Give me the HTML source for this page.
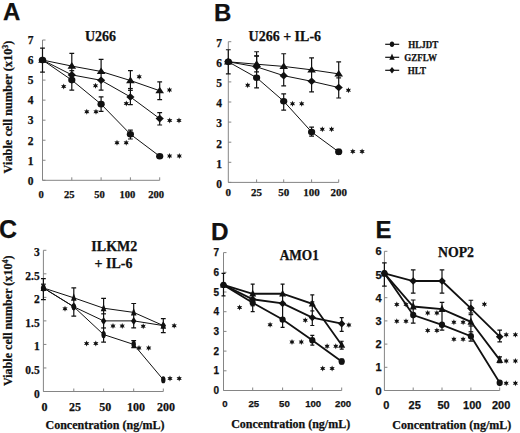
<!DOCTYPE html><html><head><meta charset="utf-8"><style>html,body{margin:0;padding:0;background:#fff;}svg{display:block;}text{stroke:#111;stroke-width:0.25px;}</style></head><body>
<svg width="520" height="433" viewBox="0 0 520 433">
<rect width="520" height="433" fill="#fff"/>
<g fill="#111">
<text x="3.0" y="20.2" font-family="'Liberation Sans', sans-serif" font-weight="bold" font-size="24">A</text>
<text x="214" y="21" font-family="'Liberation Sans', sans-serif" font-weight="bold" font-size="24">B</text>
<text x="-0.9" y="238" font-family="'Liberation Sans', sans-serif" font-weight="bold" font-size="25">C</text>
<text x="211" y="239.5" font-family="'Liberation Sans', sans-serif" font-weight="bold" font-size="24.3">D</text>
<text x="375.5" y="238" font-family="'Liberation Sans', sans-serif" font-weight="bold" font-size="24">E</text>
<text x="100.5" y="40.8" text-anchor="middle" font-family="'Liberation Serif', serif" font-weight="bold" font-size="14">U266</text>
<text x="284.8" y="40.9" text-anchor="middle" font-family="'Liberation Serif', serif" font-weight="bold" font-size="14">U266 + IL-6</text>
<text x="114.3" y="250.8" text-anchor="middle" font-family="'Liberation Serif', serif" font-weight="bold" font-size="14">ILKM2</text>
<text x="113.5" y="267.5" text-anchor="middle" font-family="'Liberation Serif', serif" font-weight="bold" font-size="14">+ IL-6</text>
<text x="279.7" y="259.7" textLength="39.2" lengthAdjust="spacingAndGlyphs" font-family="'Liberation Serif', serif" font-weight="bold" font-size="14">AMO1</text>
<text x="456" y="256.5" text-anchor="middle" font-family="'Liberation Serif', serif" font-weight="bold" font-size="13.8">NOP2</text>
<text transform="translate(11.7,107) rotate(-90)" text-anchor="middle" font-family="'Liberation Serif', serif" font-weight="bold" font-size="12.3">Viable cell number (x10<tspan dy="-4" font-size="8">3</tspan><tspan dy="4">)</tspan></text>
<text transform="translate(11.8,320.8) rotate(-90)" text-anchor="middle" font-family="'Liberation Serif', serif" font-weight="bold" font-size="12.1">Viable cell number (x10<tspan dy="-4" font-size="8">4</tspan><tspan dy="4">)</tspan></text>
<text x="105" y="429.0" text-anchor="middle" font-family="'Liberation Serif', serif" font-weight="bold" font-size="12">Concentration (ng/mL)</text>
<text x="290.7" y="427.9" text-anchor="middle" font-family="'Liberation Serif', serif" font-weight="bold" font-size="12">Concentration (ng/mL)</text>
<text x="451.8" y="428.6" text-anchor="middle" font-family="'Liberation Serif', serif" font-weight="bold" font-size="12">Concentration (ng/mL)</text>
<path d="M385.2,44.3 H399.2" stroke="#111" stroke-width="1.2"/>
<ellipse cx="392.00" cy="44.30" rx="2.20" ry="2.75"/>
<text x="408.3" y="48.3" textLength="30.0" lengthAdjust="spacingAndGlyphs" font-family="'Liberation Serif', serif" font-weight="bold" font-size="10">HLJDT</text>
<path d="M385.2,57.3 H399.2" stroke="#111" stroke-width="1.2"/>
<path d="M392.00,53.58 L394.70,59.78 L389.30,59.78 Z"/>
<text x="404.3" y="61.3" textLength="32.7" lengthAdjust="spacingAndGlyphs" font-family="'Liberation Serif', serif" font-weight="bold" font-size="10">GZFLW</text>
<path d="M385.2,70.3 H399.2" stroke="#111" stroke-width="1.2"/>
<path d="M392.00,67.00 L394.60,70.30 L392.00,73.60 L389.40,70.30 Z"/>
<text x="407.8" y="74.3" textLength="18.2" lengthAdjust="spacingAndGlyphs" font-family="'Liberation Serif', serif" font-weight="bold" font-size="10">HLT</text>
<path d="M42.5,40.02 V180.3 H159.7" fill="none" stroke="#858585" stroke-width="1.0"/>
<path d="M42.5,180.30 h3" stroke="#858585" stroke-width="1.0"/>
<path d="M42.5,160.26 h3" stroke="#858585" stroke-width="1.0"/>
<path d="M42.5,140.22 h3" stroke="#858585" stroke-width="1.0"/>
<path d="M42.5,120.18 h3" stroke="#858585" stroke-width="1.0"/>
<path d="M42.5,100.14 h3" stroke="#858585" stroke-width="1.0"/>
<path d="M42.5,80.10 h3" stroke="#858585" stroke-width="1.0"/>
<path d="M42.5,60.06 h3" stroke="#858585" stroke-width="1.0"/>
<path d="M42.5,40.02 h3" stroke="#858585" stroke-width="1.0"/>
<path d="M71.8,180.3 v-3" stroke="#858585" stroke-width="1.0"/>
<path d="M101.1,180.3 v-3" stroke="#858585" stroke-width="1.0"/>
<path d="M130.4,180.3 v-3" stroke="#858585" stroke-width="1.0"/>
<path d="M159.7,180.3 v-3" stroke="#858585" stroke-width="1.0"/>
<text x="33.5" y="184.60" text-anchor="end" font-family="'Liberation Serif', serif" font-weight="bold" font-size="11.5">0</text>
<text x="33.5" y="164.56" text-anchor="end" font-family="'Liberation Serif', serif" font-weight="bold" font-size="11.5">1</text>
<text x="33.5" y="144.52" text-anchor="end" font-family="'Liberation Serif', serif" font-weight="bold" font-size="11.5">2</text>
<text x="33.5" y="124.48" text-anchor="end" font-family="'Liberation Serif', serif" font-weight="bold" font-size="11.5">3</text>
<text x="33.5" y="104.44" text-anchor="end" font-family="'Liberation Serif', serif" font-weight="bold" font-size="11.5">4</text>
<text x="33.5" y="84.40" text-anchor="end" font-family="'Liberation Serif', serif" font-weight="bold" font-size="11.5">5</text>
<text x="33.5" y="64.36" text-anchor="end" font-family="'Liberation Serif', serif" font-weight="bold" font-size="11.5">6</text>
<text x="33.5" y="44.32" text-anchor="end" font-family="'Liberation Serif', serif" font-weight="bold" font-size="11.5">7</text>
<text x="41.2" y="198.1" text-anchor="middle" font-family="'Liberation Serif', serif" font-weight="bold" font-size="10.6">0</text>
<text x="69.3" y="198.1" text-anchor="middle" font-family="'Liberation Serif', serif" font-weight="bold" font-size="10.6">25</text>
<text x="99.6" y="198.1" text-anchor="middle" font-family="'Liberation Serif', serif" font-weight="bold" font-size="10.6">50</text>
<text x="127.4" y="198.1" text-anchor="middle" font-family="'Liberation Serif', serif" font-weight="bold" font-size="10.6">100</text>
<text x="156.2" y="198.1" text-anchor="middle" font-family="'Liberation Serif', serif" font-weight="bold" font-size="10.6">200</text>
<path d="M42.5,48.04 V72.08 M40.10,48.04 h4.8 M40.10,72.08 h4.8" stroke="#111" stroke-width="1.2" fill="none"/>
<path d="M71.8,53.45 V90.12 M69.40,53.45 h4.8 M69.40,90.12 h4.8" stroke="#111" stroke-width="1.2" fill="none"/>
<path d="M101.1,59.46 V90.12 M98.70,59.46 h4.8 M98.70,90.12 h4.8" stroke="#111" stroke-width="1.2" fill="none"/>
<path d="M101.1,96.93 V111.36 M98.70,96.93 h4.8 M98.70,111.36 h4.8" stroke="#111" stroke-width="1.2" fill="none"/>
<path d="M130.4,70.68 V104.55 M128.00,70.68 h4.8 M128.00,104.55 h4.8" stroke="#111" stroke-width="1.2" fill="none"/>
<path d="M130.4,130.20 V139.02 M128.00,130.20 h4.8 M128.00,139.02 h4.8" stroke="#111" stroke-width="1.2" fill="none"/>
<path d="M159.7,81.90 V99.54 M157.30,81.90 h4.8 M157.30,99.54 h4.8" stroke="#111" stroke-width="1.2" fill="none"/>
<path d="M159.7,112.56 V124.99 M157.30,112.56 h4.8 M157.30,124.99 h4.8" stroke="#111" stroke-width="1.2" fill="none"/>
<path d="M159.7,155.25 V157.25 M157.30,155.25 h4.8 M157.30,157.25 h4.8" stroke="#111" stroke-width="1.2" fill="none"/>
<path d="M69.40,70.68 h4.8" stroke="#111" stroke-width="1.2"/>
<path d="M128.00,88.52 h4.8" stroke="#111" stroke-width="1.2"/>
<path d="M128.00,90.32 h4.8" stroke="#111" stroke-width="1.2"/>
<polyline points="42.5,60.06 71.8,80.10 101.1,104.15 130.4,134.21 159.7,156.25" fill="none" stroke="#111" stroke-width="1.0"/>
<polyline points="42.5,60.06 71.8,66.07 101.1,71.48 130.4,80.50 159.7,90.72" fill="none" stroke="#111" stroke-width="1.0"/>
<polyline points="42.5,60.06 71.8,74.89 101.1,80.30 130.4,96.93 159.7,118.58" fill="none" stroke="#111" stroke-width="1.0"/>
<ellipse cx="42.50" cy="60.06" rx="3.60" ry="3.30"/>
<ellipse cx="71.80" cy="80.10" rx="3.60" ry="3.30"/>
<ellipse cx="101.10" cy="104.15" rx="3.60" ry="3.30"/>
<ellipse cx="130.40" cy="134.21" rx="3.60" ry="3.30"/>
<ellipse cx="159.70" cy="156.25" rx="3.60" ry="3.30"/>
<path d="M42.50,56.10 L46.80,62.70 L38.20,62.70 Z"/>
<path d="M71.80,62.11 L76.10,68.71 L67.50,68.71 Z"/>
<path d="M101.10,67.52 L105.40,74.12 L96.80,74.12 Z"/>
<path d="M130.40,76.54 L134.70,83.14 L126.10,83.14 Z"/>
<path d="M159.70,86.76 L164.00,93.36 L155.40,93.36 Z"/>
<path d="M42.50,56.26 L46.60,60.06 L42.50,63.86 L38.40,60.06 Z"/>
<path d="M71.80,71.09 L75.90,74.89 L71.80,78.69 L67.70,74.89 Z"/>
<path d="M101.10,76.50 L105.20,80.30 L101.10,84.10 L97.00,80.30 Z"/>
<path d="M130.40,93.13 L134.50,96.93 L130.40,100.73 L126.30,96.93 Z"/>
<path d="M159.70,114.78 L163.80,118.58 L159.70,122.38 L155.60,118.58 Z"/>
<path transform="translate(63.70,86.60)" d="M0.00,-3.00 L0.72,-1.26 L2.60,-1.50 L1.45,0.00 L2.60,1.50 L0.72,1.26 L0.00,3.00 L-0.72,1.26 L-2.60,1.50 L-1.45,0.00 L-2.60,-1.50 L-0.73,-1.26 Z"/>
<path transform="translate(95.50,85.70)" d="M0.00,-3.00 L0.72,-1.26 L2.60,-1.50 L1.45,0.00 L2.60,1.50 L0.72,1.26 L0.00,3.00 L-0.72,1.26 L-2.60,1.50 L-1.45,0.00 L-2.60,-1.50 L-0.73,-1.26 Z"/>
<path transform="translate(86.80,111.70)" d="M0.00,-3.00 L0.72,-1.26 L2.60,-1.50 L1.45,0.00 L2.60,1.50 L0.72,1.26 L0.00,3.00 L-0.72,1.26 L-2.60,1.50 L-1.45,0.00 L-2.60,-1.50 L-0.73,-1.26 Z"/>
<path transform="translate(96.00,111.70)" d="M0.00,-3.00 L0.72,-1.26 L2.60,-1.50 L1.45,0.00 L2.60,1.50 L0.72,1.26 L0.00,3.00 L-0.72,1.26 L-2.60,1.50 L-1.45,0.00 L-2.60,-1.50 L-0.73,-1.26 Z"/>
<path transform="translate(139.20,76.80)" d="M0.00,-3.00 L0.72,-1.26 L2.60,-1.50 L1.45,0.00 L2.60,1.50 L0.72,1.26 L0.00,3.00 L-0.72,1.26 L-2.60,1.50 L-1.45,0.00 L-2.60,-1.50 L-0.73,-1.26 Z"/>
<path transform="translate(126.30,103.60)" d="M0.00,-3.00 L0.72,-1.26 L2.60,-1.50 L1.45,0.00 L2.60,1.50 L0.72,1.26 L0.00,3.00 L-0.72,1.26 L-2.60,1.50 L-1.45,0.00 L-2.60,-1.50 L-0.73,-1.26 Z"/>
<path transform="translate(117.00,142.70)" d="M0.00,-3.00 L0.72,-1.26 L2.60,-1.50 L1.45,0.00 L2.60,1.50 L0.72,1.26 L0.00,3.00 L-0.72,1.26 L-2.60,1.50 L-1.45,0.00 L-2.60,-1.50 L-0.73,-1.26 Z"/>
<path transform="translate(126.20,142.70)" d="M0.00,-3.00 L0.72,-1.26 L2.60,-1.50 L1.45,0.00 L2.60,1.50 L0.72,1.26 L0.00,3.00 L-0.72,1.26 L-2.60,1.50 L-1.45,0.00 L-2.60,-1.50 L-0.73,-1.26 Z"/>
<path transform="translate(169.50,90.10)" d="M0.00,-3.00 L0.72,-1.26 L2.60,-1.50 L1.45,0.00 L2.60,1.50 L0.72,1.26 L0.00,3.00 L-0.72,1.26 L-2.60,1.50 L-1.45,0.00 L-2.60,-1.50 L-0.73,-1.26 Z"/>
<path transform="translate(169.70,120.60)" d="M0.00,-3.00 L0.72,-1.26 L2.60,-1.50 L1.45,0.00 L2.60,1.50 L0.72,1.26 L0.00,3.00 L-0.72,1.26 L-2.60,1.50 L-1.45,0.00 L-2.60,-1.50 L-0.73,-1.26 Z"/>
<path transform="translate(179.00,120.60)" d="M0.00,-3.00 L0.72,-1.26 L2.60,-1.50 L1.45,0.00 L2.60,1.50 L0.72,1.26 L0.00,3.00 L-0.72,1.26 L-2.60,1.50 L-1.45,0.00 L-2.60,-1.50 L-0.73,-1.26 Z"/>
<path transform="translate(169.60,155.90)" d="M0.00,-3.00 L0.72,-1.26 L2.60,-1.50 L1.45,0.00 L2.60,1.50 L0.72,1.26 L0.00,3.00 L-0.72,1.26 L-2.60,1.50 L-1.45,0.00 L-2.60,-1.50 L-0.73,-1.26 Z"/>
<path transform="translate(179.30,155.90)" d="M0.00,-3.00 L0.72,-1.26 L2.60,-1.50 L1.45,0.00 L2.60,1.50 L0.72,1.26 L0.00,3.00 L-0.72,1.26 L-2.60,1.50 L-1.45,0.00 L-2.60,-1.50 L-0.73,-1.26 Z"/>
<path d="M228.3,41.70 V182.4 H338.7" fill="none" stroke="#858585" stroke-width="1.0"/>
<path d="M228.3,182.40 h3" stroke="#858585" stroke-width="1.0"/>
<path d="M228.3,162.30 h3" stroke="#858585" stroke-width="1.0"/>
<path d="M228.3,142.20 h3" stroke="#858585" stroke-width="1.0"/>
<path d="M228.3,122.10 h3" stroke="#858585" stroke-width="1.0"/>
<path d="M228.3,102.00 h3" stroke="#858585" stroke-width="1.0"/>
<path d="M228.3,81.90 h3" stroke="#858585" stroke-width="1.0"/>
<path d="M228.3,61.80 h3" stroke="#858585" stroke-width="1.0"/>
<path d="M228.3,41.70 h3" stroke="#858585" stroke-width="1.0"/>
<path d="M256.6,182.4 v-3" stroke="#858585" stroke-width="1.0"/>
<path d="M283.7,182.4 v-3" stroke="#858585" stroke-width="1.0"/>
<path d="M311.6,182.4 v-3" stroke="#858585" stroke-width="1.0"/>
<path d="M338.7,182.4 v-3" stroke="#858585" stroke-width="1.0"/>
<text x="222" y="187.70" text-anchor="end" font-family="'Liberation Serif', serif" font-weight="bold" font-size="11.5">0</text>
<text x="222" y="167.60" text-anchor="end" font-family="'Liberation Serif', serif" font-weight="bold" font-size="11.5">1</text>
<text x="222" y="147.50" text-anchor="end" font-family="'Liberation Serif', serif" font-weight="bold" font-size="11.5">2</text>
<text x="222" y="127.40" text-anchor="end" font-family="'Liberation Serif', serif" font-weight="bold" font-size="11.5">3</text>
<text x="222" y="107.30" text-anchor="end" font-family="'Liberation Serif', serif" font-weight="bold" font-size="11.5">4</text>
<text x="222" y="87.20" text-anchor="end" font-family="'Liberation Serif', serif" font-weight="bold" font-size="11.5">5</text>
<text x="222" y="67.10" text-anchor="end" font-family="'Liberation Serif', serif" font-weight="bold" font-size="11.5">6</text>
<text x="222" y="47.00" text-anchor="end" font-family="'Liberation Serif', serif" font-weight="bold" font-size="11.5">7</text>
<text x="228.3" y="195.9" text-anchor="middle" font-family="'Liberation Serif', serif" font-weight="bold" font-size="11">0</text>
<text x="256.6" y="195.9" text-anchor="middle" font-family="'Liberation Serif', serif" font-weight="bold" font-size="11">25</text>
<text x="283.7" y="195.9" text-anchor="middle" font-family="'Liberation Serif', serif" font-weight="bold" font-size="11">50</text>
<text x="311.6" y="195.9" text-anchor="middle" font-family="'Liberation Serif', serif" font-weight="bold" font-size="11">100</text>
<text x="338.7" y="195.9" text-anchor="middle" font-family="'Liberation Serif', serif" font-weight="bold" font-size="11">200</text>
<path d="M228.3,49.74 V73.86 M225.90,49.74 h4.8 M225.90,73.86 h4.8" stroke="#111" stroke-width="1.2" fill="none"/>
<path d="M256.6,51.75 V87.93 M254.20,51.75 h4.8 M254.20,87.93 h4.8" stroke="#111" stroke-width="1.2" fill="none"/>
<path d="M256.6,55.77 V71.85 M254.20,55.77 h4.8 M254.20,71.85 h4.8" stroke="#111" stroke-width="1.2" fill="none"/>
<path d="M283.7,53.76 V85.92 M281.30,53.76 h4.8 M281.30,85.92 h4.8" stroke="#111" stroke-width="1.2" fill="none"/>
<path d="M283.7,93.96 V110.04 M281.30,93.96 h4.8 M281.30,110.04 h4.8" stroke="#111" stroke-width="1.2" fill="none"/>
<path d="M311.6,57.78 V91.95 M309.20,57.78 h4.8 M309.20,91.95 h4.8" stroke="#111" stroke-width="1.2" fill="none"/>
<path d="M311.6,127.12 V136.17 M309.20,127.12 h4.8 M309.20,136.17 h4.8" stroke="#111" stroke-width="1.2" fill="none"/>
<path d="M338.7,61.80 V97.98 M336.30,61.80 h4.8 M336.30,97.98 h4.8" stroke="#111" stroke-width="1.2" fill="none"/>
<path d="M338.7,149.24 V154.26 M336.30,149.24 h4.8 M336.30,154.26 h4.8" stroke="#111" stroke-width="1.2" fill="none"/>
<path d="M254.20,56.17 h4.8" stroke="#111" stroke-width="1.2"/>
<path d="M336.30,77.88 h4.8" stroke="#111" stroke-width="1.2"/>
<polyline points="228.3,61.80 256.6,77.68 283.7,101.20 311.6,131.95 338.7,151.85" fill="none" stroke="#111" stroke-width="1.0"/>
<polyline points="228.3,61.80 256.6,64.21 283.7,66.42 311.6,69.84 338.7,73.86" fill="none" stroke="#111" stroke-width="1.0"/>
<polyline points="228.3,61.80 256.6,66.83 283.7,75.67 311.6,81.30 338.7,87.53" fill="none" stroke="#111" stroke-width="1.0"/>
<ellipse cx="228.30" cy="61.80" rx="3.60" ry="3.30"/>
<ellipse cx="256.60" cy="77.68" rx="3.60" ry="3.30"/>
<ellipse cx="283.70" cy="101.20" rx="3.60" ry="3.30"/>
<ellipse cx="311.60" cy="131.95" rx="3.60" ry="3.30"/>
<ellipse cx="338.70" cy="151.85" rx="3.60" ry="3.30"/>
<path d="M228.30,57.84 L232.60,64.44 L224.00,64.44 Z"/>
<path d="M256.60,60.25 L260.90,66.85 L252.30,66.85 Z"/>
<path d="M283.70,62.46 L288.00,69.06 L279.40,69.06 Z"/>
<path d="M311.60,65.88 L315.90,72.48 L307.30,72.48 Z"/>
<path d="M338.70,69.90 L343.00,76.50 L334.40,76.50 Z"/>
<path d="M228.30,58.00 L232.40,61.80 L228.30,65.60 L224.20,61.80 Z"/>
<path d="M256.60,63.03 L260.70,66.83 L256.60,70.62 L252.50,66.83 Z"/>
<path d="M283.70,71.87 L287.80,75.67 L283.70,79.47 L279.60,75.67 Z"/>
<path d="M311.60,77.50 L315.70,81.30 L311.60,85.10 L307.50,81.30 Z"/>
<path d="M338.70,83.73 L342.80,87.53 L338.70,91.33 L334.60,87.53 Z"/>
<path transform="translate(247.70,85.30)" d="M0.00,-3.00 L0.72,-1.26 L2.60,-1.50 L1.45,0.00 L2.60,1.50 L0.72,1.26 L0.00,3.00 L-0.72,1.26 L-2.60,1.50 L-1.45,0.00 L-2.60,-1.50 L-0.73,-1.26 Z"/>
<path transform="translate(292.50,103.80)" d="M0.00,-3.00 L0.72,-1.26 L2.60,-1.50 L1.45,0.00 L2.60,1.50 L0.72,1.26 L0.00,3.00 L-0.72,1.26 L-2.60,1.50 L-1.45,0.00 L-2.60,-1.50 L-0.73,-1.26 Z"/>
<path transform="translate(301.70,103.80)" d="M0.00,-3.00 L0.72,-1.26 L2.60,-1.50 L1.45,0.00 L2.60,1.50 L0.72,1.26 L0.00,3.00 L-0.72,1.26 L-2.60,1.50 L-1.45,0.00 L-2.60,-1.50 L-0.73,-1.26 Z"/>
<path transform="translate(348.40,90.30)" d="M0.00,-3.00 L0.72,-1.26 L2.60,-1.50 L1.45,0.00 L2.60,1.50 L0.72,1.26 L0.00,3.00 L-0.72,1.26 L-2.60,1.50 L-1.45,0.00 L-2.60,-1.50 L-0.73,-1.26 Z"/>
<path transform="translate(322.30,129.20)" d="M0.00,-3.00 L0.72,-1.26 L2.60,-1.50 L1.45,0.00 L2.60,1.50 L0.72,1.26 L0.00,3.00 L-0.72,1.26 L-2.60,1.50 L-1.45,0.00 L-2.60,-1.50 L-0.73,-1.26 Z"/>
<path transform="translate(331.60,129.20)" d="M0.00,-3.00 L0.72,-1.26 L2.60,-1.50 L1.45,0.00 L2.60,1.50 L0.72,1.26 L0.00,3.00 L-0.72,1.26 L-2.60,1.50 L-1.45,0.00 L-2.60,-1.50 L-0.73,-1.26 Z"/>
<path transform="translate(352.80,151.40)" d="M0.00,-3.00 L0.72,-1.26 L2.60,-1.50 L1.45,0.00 L2.60,1.50 L0.72,1.26 L0.00,3.00 L-0.72,1.26 L-2.60,1.50 L-1.45,0.00 L-2.60,-1.50 L-0.73,-1.26 Z"/>
<path transform="translate(362.10,151.40)" d="M0.00,-3.00 L0.72,-1.26 L2.60,-1.50 L1.45,0.00 L2.60,1.50 L0.72,1.26 L0.00,3.00 L-0.72,1.26 L-2.60,1.50 L-1.45,0.00 L-2.60,-1.50 L-0.73,-1.26 Z"/>
<path d="M43.4,250.29 V391.5 H163.3" fill="none" stroke="#858585" stroke-width="1.0"/>
<path d="M43.4,391.50 h3" stroke="#858585" stroke-width="1.0"/>
<path d="M43.4,367.96 h3" stroke="#858585" stroke-width="1.0"/>
<path d="M43.4,344.43 h3" stroke="#858585" stroke-width="1.0"/>
<path d="M43.4,320.89 h3" stroke="#858585" stroke-width="1.0"/>
<path d="M43.4,297.36 h3" stroke="#858585" stroke-width="1.0"/>
<path d="M43.4,273.82 h3" stroke="#858585" stroke-width="1.0"/>
<path d="M43.4,250.29 h3" stroke="#858585" stroke-width="1.0"/>
<path d="M73.8,391.5 v-3" stroke="#858585" stroke-width="1.0"/>
<path d="M103.6,391.5 v-3" stroke="#858585" stroke-width="1.0"/>
<path d="M133.7,391.5 v-3" stroke="#858585" stroke-width="1.0"/>
<path d="M163.3,391.5 v-3" stroke="#858585" stroke-width="1.0"/>
<text x="39.7" y="397.50" text-anchor="end" font-family="'Liberation Serif', serif" font-weight="bold" font-size="11.5">0</text>
<text x="39.7" y="373.96" text-anchor="end" font-family="'Liberation Serif', serif" font-weight="bold" font-size="11.5">0.5</text>
<text x="39.7" y="350.43" text-anchor="end" font-family="'Liberation Serif', serif" font-weight="bold" font-size="11.5">1</text>
<text x="39.7" y="326.89" text-anchor="end" font-family="'Liberation Serif', serif" font-weight="bold" font-size="11.5">1.5</text>
<text x="39.7" y="303.36" text-anchor="end" font-family="'Liberation Serif', serif" font-weight="bold" font-size="11.5">2</text>
<text x="39.7" y="279.82" text-anchor="end" font-family="'Liberation Serif', serif" font-weight="bold" font-size="11.5">2.5</text>
<text x="39.7" y="256.29" text-anchor="end" font-family="'Liberation Serif', serif" font-weight="bold" font-size="11.5">3</text>
<text x="44.6" y="410.6" text-anchor="middle" font-family="'Liberation Serif', serif" font-weight="bold" font-size="12">0</text>
<text x="74.9" y="410.6" text-anchor="middle" font-family="'Liberation Serif', serif" font-weight="bold" font-size="12">25</text>
<text x="105.2" y="410.6" text-anchor="middle" font-family="'Liberation Serif', serif" font-weight="bold" font-size="12">50</text>
<text x="135.9" y="410.6" text-anchor="middle" font-family="'Liberation Serif', serif" font-weight="bold" font-size="12">100</text>
<text x="166.0" y="410.6" text-anchor="middle" font-family="'Liberation Serif', serif" font-weight="bold" font-size="12">200</text>
<path d="M43.4,278.53 V299.71 M41.00,278.53 h4.8 M41.00,299.71 h4.8" stroke="#111" stroke-width="1.2" fill="none"/>
<path d="M73.8,287.95 V316.19 M71.40,287.95 h4.8 M71.40,316.19 h4.8" stroke="#111" stroke-width="1.2" fill="none"/>
<path d="M103.6,298.30 V342.08 M101.20,298.30 h4.8 M101.20,342.08 h4.8" stroke="#111" stroke-width="1.2" fill="none"/>
<path d="M133.7,303.48 V327.96 M131.30,303.48 h4.8 M131.30,327.96 h4.8" stroke="#111" stroke-width="1.2" fill="none"/>
<path d="M133.7,340.66 V347.72 M131.30,340.66 h4.8 M131.30,347.72 h4.8" stroke="#111" stroke-width="1.2" fill="none"/>
<path d="M163.3,318.54 V332.66 M160.90,318.54 h4.8 M160.90,332.66 h4.8" stroke="#111" stroke-width="1.2" fill="none"/>
<path d="M101.20,313.83 h4.8" stroke="#111" stroke-width="1.2"/>
<path d="M101.20,327.96 h4.8" stroke="#111" stroke-width="1.2"/>
<path d="M41.00,284.18 h4.8" stroke="#111" stroke-width="1.2"/>
<polyline points="43.4,287.95 73.8,306.77 103.6,334.55 133.7,344.43 163.3,379.73" fill="none" stroke="#111" stroke-width="1.0"/>
<polyline points="43.4,287.95 73.8,297.83 103.6,308.19 133.7,312.42 163.3,325.60" fill="none" stroke="#111" stroke-width="1.0"/>
<polyline points="43.4,287.95 73.8,306.77 103.6,320.89 133.7,320.89 163.3,325.60" fill="none" stroke="#111" stroke-width="1.0"/>
<ellipse cx="43.40" cy="287.95" rx="2.20" ry="3.60"/>
<ellipse cx="73.80" cy="306.77" rx="2.20" ry="3.60"/>
<ellipse cx="103.60" cy="334.55" rx="2.20" ry="3.60"/>
<ellipse cx="133.70" cy="344.43" rx="2.20" ry="3.60"/>
<ellipse cx="163.30" cy="379.73" rx="2.20" ry="3.60"/>
<path d="M43.40,283.39 L46.20,290.99 L40.60,290.99 Z"/>
<path d="M73.80,293.27 L76.60,300.87 L71.00,300.87 Z"/>
<path d="M103.60,303.63 L106.40,311.23 L100.80,311.23 Z"/>
<path d="M133.70,307.86 L136.50,315.46 L130.90,315.46 Z"/>
<path d="M163.30,321.04 L166.10,328.64 L160.50,328.64 Z"/>
<path d="M43.40,283.95 L46.10,287.95 L43.40,291.95 L40.70,287.95 Z"/>
<path d="M73.80,302.77 L76.50,306.77 L73.80,310.77 L71.10,306.77 Z"/>
<path d="M103.60,316.89 L106.30,320.89 L103.60,324.89 L100.90,320.89 Z"/>
<path d="M133.70,316.89 L136.40,320.89 L133.70,324.89 L131.00,320.89 Z"/>
<path d="M163.30,321.60 L166.00,325.60 L163.30,329.60 L160.60,325.60 Z"/>
<path transform="translate(65.00,308.80)" d="M0.00,-3.00 L0.72,-1.26 L2.60,-1.50 L1.45,0.00 L2.60,1.50 L0.72,1.26 L0.00,3.00 L-0.72,1.26 L-2.60,1.50 L-1.45,0.00 L-2.60,-1.50 L-0.73,-1.26 Z"/>
<path transform="translate(86.60,343.60)" d="M0.00,-3.00 L0.72,-1.26 L2.60,-1.50 L1.45,0.00 L2.60,1.50 L0.72,1.26 L0.00,3.00 L-0.72,1.26 L-2.60,1.50 L-1.45,0.00 L-2.60,-1.50 L-0.73,-1.26 Z"/>
<path transform="translate(95.80,343.60)" d="M0.00,-3.00 L0.72,-1.26 L2.60,-1.50 L1.45,0.00 L2.60,1.50 L0.72,1.26 L0.00,3.00 L-0.72,1.26 L-2.60,1.50 L-1.45,0.00 L-2.60,-1.50 L-0.73,-1.26 Z"/>
<path transform="translate(113.00,326.00)" d="M0.00,-3.00 L0.72,-1.26 L2.60,-1.50 L1.45,0.00 L2.60,1.50 L0.72,1.26 L0.00,3.00 L-0.72,1.26 L-2.60,1.50 L-1.45,0.00 L-2.60,-1.50 L-0.73,-1.26 Z"/>
<path transform="translate(122.20,326.00)" d="M0.00,-3.00 L0.72,-1.26 L2.60,-1.50 L1.45,0.00 L2.60,1.50 L0.72,1.26 L0.00,3.00 L-0.72,1.26 L-2.60,1.50 L-1.45,0.00 L-2.60,-1.50 L-0.73,-1.26 Z"/>
<path transform="translate(143.20,326.20)" d="M0.00,-3.00 L0.72,-1.26 L2.60,-1.50 L1.45,0.00 L2.60,1.50 L0.72,1.26 L0.00,3.00 L-0.72,1.26 L-2.60,1.50 L-1.45,0.00 L-2.60,-1.50 L-0.73,-1.26 Z"/>
<path transform="translate(174.20,325.70)" d="M0.00,-3.00 L0.72,-1.26 L2.60,-1.50 L1.45,0.00 L2.60,1.50 L0.72,1.26 L0.00,3.00 L-0.72,1.26 L-2.60,1.50 L-1.45,0.00 L-2.60,-1.50 L-0.73,-1.26 Z"/>
<path transform="translate(139.00,348.00)" d="M0.00,-3.00 L0.72,-1.26 L2.60,-1.50 L1.45,0.00 L2.60,1.50 L0.72,1.26 L0.00,3.00 L-0.72,1.26 L-2.60,1.50 L-1.45,0.00 L-2.60,-1.50 L-0.73,-1.26 Z"/>
<path transform="translate(148.70,348.00)" d="M0.00,-3.00 L0.72,-1.26 L2.60,-1.50 L1.45,0.00 L2.60,1.50 L0.72,1.26 L0.00,3.00 L-0.72,1.26 L-2.60,1.50 L-1.45,0.00 L-2.60,-1.50 L-0.73,-1.26 Z"/>
<path transform="translate(170.00,378.60)" d="M0.00,-3.00 L0.72,-1.26 L2.60,-1.50 L1.45,0.00 L2.60,1.50 L0.72,1.26 L0.00,3.00 L-0.72,1.26 L-2.60,1.50 L-1.45,0.00 L-2.60,-1.50 L-0.73,-1.26 Z"/>
<path transform="translate(179.20,378.60)" d="M0.00,-3.00 L0.72,-1.26 L2.60,-1.50 L1.45,0.00 L2.60,1.50 L0.72,1.26 L0.00,3.00 L-0.72,1.26 L-2.60,1.50 L-1.45,0.00 L-2.60,-1.50 L-0.73,-1.26 Z"/>
<path d="M223.5,252.60 V390.5 H341.7" fill="none" stroke="#858585" stroke-width="1.0"/>
<path d="M223.5,390.50 h3" stroke="#858585" stroke-width="1.0"/>
<path d="M223.5,370.80 h3" stroke="#858585" stroke-width="1.0"/>
<path d="M223.5,351.10 h3" stroke="#858585" stroke-width="1.0"/>
<path d="M223.5,331.40 h3" stroke="#858585" stroke-width="1.0"/>
<path d="M223.5,311.70 h3" stroke="#858585" stroke-width="1.0"/>
<path d="M223.5,292.00 h3" stroke="#858585" stroke-width="1.0"/>
<path d="M223.5,272.30 h3" stroke="#858585" stroke-width="1.0"/>
<path d="M223.5,252.60 h3" stroke="#858585" stroke-width="1.0"/>
<path d="M252.7,390.5 v-3" stroke="#858585" stroke-width="1.0"/>
<path d="M282.6,390.5 v-3" stroke="#858585" stroke-width="1.0"/>
<path d="M312.3,390.5 v-3" stroke="#858585" stroke-width="1.0"/>
<path d="M341.7,390.5 v-3" stroke="#858585" stroke-width="1.0"/>
<text x="219" y="394.10" text-anchor="end" font-family="'Liberation Sans', sans-serif" font-weight="bold" font-size="10">0</text>
<text x="219" y="374.40" text-anchor="end" font-family="'Liberation Sans', sans-serif" font-weight="bold" font-size="10">1</text>
<text x="219" y="354.70" text-anchor="end" font-family="'Liberation Sans', sans-serif" font-weight="bold" font-size="10">2</text>
<text x="219" y="335.00" text-anchor="end" font-family="'Liberation Sans', sans-serif" font-weight="bold" font-size="10">3</text>
<text x="219" y="315.30" text-anchor="end" font-family="'Liberation Sans', sans-serif" font-weight="bold" font-size="10">4</text>
<text x="219" y="295.60" text-anchor="end" font-family="'Liberation Sans', sans-serif" font-weight="bold" font-size="10">5</text>
<text x="219" y="275.90" text-anchor="end" font-family="'Liberation Sans', sans-serif" font-weight="bold" font-size="10">6</text>
<text x="219" y="256.20" text-anchor="end" font-family="'Liberation Sans', sans-serif" font-weight="bold" font-size="10">7</text>
<text x="225.0" y="407.4" text-anchor="middle" font-family="'Liberation Sans', sans-serif" font-weight="bold" font-size="9.6">0</text>
<text x="253.8" y="407.4" text-anchor="middle" font-family="'Liberation Sans', sans-serif" font-weight="bold" font-size="9.6">25</text>
<text x="284.4" y="407.4" text-anchor="middle" font-family="'Liberation Sans', sans-serif" font-weight="bold" font-size="9.6">50</text>
<text x="313.2" y="407.4" text-anchor="middle" font-family="'Liberation Sans', sans-serif" font-weight="bold" font-size="9.6">100</text>
<text x="343.1" y="407.4" text-anchor="middle" font-family="'Liberation Sans', sans-serif" font-weight="bold" font-size="9.6">200</text>
<path d="M223.5,273.28 V295.94 M221.50,273.28 h4.0 M221.50,295.94 h4.0" stroke="#111" stroke-width="1.2" fill="none"/>
<path d="M252.7,284.12 V311.70 M250.70,284.12 h4.0 M250.70,311.70 h4.0" stroke="#111" stroke-width="1.2" fill="none"/>
<path d="M282.6,284.12 V327.46 M280.60,284.12 h4.0 M280.60,327.46 h4.0" stroke="#111" stroke-width="1.2" fill="none"/>
<path d="M312.3,294.96 V325.49 M310.30,294.96 h4.0 M310.30,325.49 h4.0" stroke="#111" stroke-width="1.2" fill="none"/>
<path d="M312.3,335.34 V345.19 M310.30,335.34 h4.0 M310.30,345.19 h4.0" stroke="#111" stroke-width="1.2" fill="none"/>
<path d="M341.7,317.61 V331.40 M339.70,317.61 h4.0 M339.70,331.40 h4.0" stroke="#111" stroke-width="1.2" fill="none"/>
<path d="M341.7,341.25 V349.13 M339.70,341.25 h4.0 M339.70,349.13 h4.0" stroke="#111" stroke-width="1.2" fill="none"/>
<path d="M341.7,358.98 V363.90 M339.70,358.98 h4.0 M339.70,363.90 h4.0" stroke="#111" stroke-width="1.2" fill="none"/>
<path d="M250.70,305.79 h4.0" stroke="#111" stroke-width="1.2"/>
<path d="M310.30,301.85 h4.0" stroke="#111" stroke-width="1.2"/>
<path d="M310.30,310.91 h4.0" stroke="#111" stroke-width="1.2"/>
<polyline points="223.5,284.91 252.7,302.83 282.6,319.58 312.3,340.26 341.7,361.54" fill="none" stroke="#111" stroke-width="1.8"/>
<polyline points="223.5,284.91 252.7,293.77 282.6,293.77 312.3,303.82 341.7,344.99" fill="none" stroke="#111" stroke-width="1.8"/>
<polyline points="223.5,284.91 252.7,299.29 282.6,303.43 312.3,317.61 341.7,323.72" fill="none" stroke="#111" stroke-width="1.8"/>
<ellipse cx="223.50" cy="284.91" rx="3.10" ry="3.20"/>
<ellipse cx="252.70" cy="302.83" rx="3.10" ry="3.20"/>
<ellipse cx="282.60" cy="319.58" rx="3.10" ry="3.20"/>
<ellipse cx="312.30" cy="340.26" rx="3.10" ry="3.20"/>
<ellipse cx="341.70" cy="361.54" rx="3.10" ry="3.20"/>
<path d="M223.50,280.95 L227.00,287.55 L220.00,287.55 Z"/>
<path d="M252.70,289.81 L256.20,296.41 L249.20,296.41 Z"/>
<path d="M282.60,289.81 L286.10,296.41 L279.10,296.41 Z"/>
<path d="M312.30,299.86 L315.80,306.46 L308.80,306.46 Z"/>
<path d="M341.70,341.03 L345.20,347.63 L338.20,347.63 Z"/>
<path d="M223.50,281.21 L227.20,284.91 L223.50,288.61 L219.80,284.91 Z"/>
<path d="M252.70,295.59 L256.40,299.29 L252.70,302.99 L249.00,299.29 Z"/>
<path d="M282.60,299.73 L286.30,303.43 L282.60,307.13 L278.90,303.43 Z"/>
<path d="M312.30,313.91 L316.00,317.61 L312.30,321.31 L308.60,317.61 Z"/>
<path d="M341.70,320.02 L345.40,323.72 L341.70,327.42 L338.00,323.72 Z"/>
<path transform="translate(239.60,307.50)" d="M0.00,-3.00 L0.72,-1.26 L2.60,-1.50 L1.45,0.00 L2.60,1.50 L0.72,1.26 L0.00,3.00 L-0.72,1.26 L-2.60,1.50 L-1.45,0.00 L-2.60,-1.50 L-0.73,-1.26 Z"/>
<path transform="translate(270.10,324.70)" d="M0.00,-3.00 L0.72,-1.26 L2.60,-1.50 L1.45,0.00 L2.60,1.50 L0.72,1.26 L0.00,3.00 L-0.72,1.26 L-2.60,1.50 L-1.45,0.00 L-2.60,-1.50 L-0.73,-1.26 Z"/>
<path transform="translate(305.30,320.30)" d="M0.00,-3.00 L0.72,-1.26 L2.60,-1.50 L1.45,0.00 L2.60,1.50 L0.72,1.26 L0.00,3.00 L-0.72,1.26 L-2.60,1.50 L-1.45,0.00 L-2.60,-1.50 L-0.73,-1.26 Z"/>
<path transform="translate(292.00,342.10)" d="M0.00,-3.00 L0.72,-1.26 L2.60,-1.50 L1.45,0.00 L2.60,1.50 L0.72,1.26 L0.00,3.00 L-0.72,1.26 L-2.60,1.50 L-1.45,0.00 L-2.60,-1.50 L-0.73,-1.26 Z"/>
<path transform="translate(301.30,342.10)" d="M0.00,-3.00 L0.72,-1.26 L2.60,-1.50 L1.45,0.00 L2.60,1.50 L0.72,1.26 L0.00,3.00 L-0.72,1.26 L-2.60,1.50 L-1.45,0.00 L-2.60,-1.50 L-0.73,-1.26 Z"/>
<path transform="translate(348.90,324.90)" d="M0.00,-3.00 L0.72,-1.26 L2.60,-1.50 L1.45,0.00 L2.60,1.50 L0.72,1.26 L0.00,3.00 L-0.72,1.26 L-2.60,1.50 L-1.45,0.00 L-2.60,-1.50 L-0.73,-1.26 Z"/>
<path transform="translate(327.10,346.20)" d="M0.00,-3.00 L0.72,-1.26 L2.60,-1.50 L1.45,0.00 L2.60,1.50 L0.72,1.26 L0.00,3.00 L-0.72,1.26 L-2.60,1.50 L-1.45,0.00 L-2.60,-1.50 L-0.73,-1.26 Z"/>
<path transform="translate(335.80,346.20)" d="M0.00,-3.00 L0.72,-1.26 L2.60,-1.50 L1.45,0.00 L2.60,1.50 L0.72,1.26 L0.00,3.00 L-0.72,1.26 L-2.60,1.50 L-1.45,0.00 L-2.60,-1.50 L-0.73,-1.26 Z"/>
<path transform="translate(322.70,368.60)" d="M0.00,-3.00 L0.72,-1.26 L2.60,-1.50 L1.45,0.00 L2.60,1.50 L0.72,1.26 L0.00,3.00 L-0.72,1.26 L-2.60,1.50 L-1.45,0.00 L-2.60,-1.50 L-0.73,-1.26 Z"/>
<path transform="translate(332.10,368.60)" d="M0.00,-3.00 L0.72,-1.26 L2.60,-1.50 L1.45,0.00 L2.60,1.50 L0.72,1.26 L0.00,3.00 L-0.72,1.26 L-2.60,1.50 L-1.45,0.00 L-2.60,-1.50 L-0.73,-1.26 Z"/>
<path d="M384.4,251.30 V390.5 H499.7" fill="none" stroke="#858585" stroke-width="1.0"/>
<path d="M384.4,390.50 h3" stroke="#858585" stroke-width="1.0"/>
<path d="M384.4,367.30 h3" stroke="#858585" stroke-width="1.0"/>
<path d="M384.4,344.10 h3" stroke="#858585" stroke-width="1.0"/>
<path d="M384.4,320.90 h3" stroke="#858585" stroke-width="1.0"/>
<path d="M384.4,297.70 h3" stroke="#858585" stroke-width="1.0"/>
<path d="M384.4,274.50 h3" stroke="#858585" stroke-width="1.0"/>
<path d="M384.4,251.30 h3" stroke="#858585" stroke-width="1.0"/>
<path d="M413.2,390.5 v-3" stroke="#858585" stroke-width="1.0"/>
<path d="M442,390.5 v-3" stroke="#858585" stroke-width="1.0"/>
<path d="M470.9,390.5 v-3" stroke="#858585" stroke-width="1.0"/>
<path d="M499.7,390.5 v-3" stroke="#858585" stroke-width="1.0"/>
<text x="381.5" y="394.50" text-anchor="end" font-family="'Liberation Sans', sans-serif" font-weight="bold" font-size="11">0</text>
<text x="381.5" y="371.30" text-anchor="end" font-family="'Liberation Sans', sans-serif" font-weight="bold" font-size="11">1</text>
<text x="381.5" y="348.10" text-anchor="end" font-family="'Liberation Sans', sans-serif" font-weight="bold" font-size="11">2</text>
<text x="381.5" y="324.90" text-anchor="end" font-family="'Liberation Sans', sans-serif" font-weight="bold" font-size="11">3</text>
<text x="381.5" y="301.70" text-anchor="end" font-family="'Liberation Sans', sans-serif" font-weight="bold" font-size="11">4</text>
<text x="381.5" y="278.50" text-anchor="end" font-family="'Liberation Sans', sans-serif" font-weight="bold" font-size="11">5</text>
<text x="381.5" y="255.30" text-anchor="end" font-family="'Liberation Sans', sans-serif" font-weight="bold" font-size="11">6</text>
<text x="386.4" y="409.3" text-anchor="middle" font-family="'Liberation Sans', sans-serif" font-weight="bold" font-size="11">0</text>
<text x="414.7" y="409.3" text-anchor="middle" font-family="'Liberation Sans', sans-serif" font-weight="bold" font-size="11">25</text>
<text x="443.5" y="409.3" text-anchor="middle" font-family="'Liberation Sans', sans-serif" font-weight="bold" font-size="11">50</text>
<text x="472.3" y="409.3" text-anchor="middle" font-family="'Liberation Sans', sans-serif" font-weight="bold" font-size="11">100</text>
<text x="501.1" y="409.3" text-anchor="middle" font-family="'Liberation Sans', sans-serif" font-weight="bold" font-size="11">200</text>
<path d="M384.4,262.90 V286.10 M382.10,262.90 h4.6 M382.10,286.10 h4.6" stroke="#111" stroke-width="1.2" fill="none"/>
<path d="M413.2,269.86 V293.06 M410.90,269.86 h4.6 M410.90,293.06 h4.6" stroke="#111" stroke-width="1.2" fill="none"/>
<path d="M413.2,300.02 V323.22 M410.90,300.02 h4.6 M410.90,323.22 h4.6" stroke="#111" stroke-width="1.2" fill="none"/>
<path d="M442,269.86 V293.06 M439.70,269.86 h4.6 M439.70,293.06 h4.6" stroke="#111" stroke-width="1.2" fill="none"/>
<path d="M442,302.34 V330.18 M439.70,302.34 h4.6 M439.70,330.18 h4.6" stroke="#111" stroke-width="1.2" fill="none"/>
<path d="M470.9,300.25 V341.08 M468.60,300.25 h4.6 M468.60,341.08 h4.6" stroke="#111" stroke-width="1.2" fill="none"/>
<path d="M499.7,330.18 V341.78 M497.40,330.18 h4.6 M497.40,341.78 h4.6" stroke="#111" stroke-width="1.2" fill="none"/>
<path d="M499.7,356.86 V362.66 M497.40,356.86 h4.6 M497.40,362.66 h4.6" stroke="#111" stroke-width="1.2" fill="none"/>
<path d="M468.60,313.01 h4.6" stroke="#111" stroke-width="1.2"/>
<path d="M468.60,314.64 h4.6" stroke="#111" stroke-width="1.2"/>
<path d="M468.60,326.00 h4.6" stroke="#111" stroke-width="1.2"/>
<path d="M468.60,331.80 h4.6" stroke="#111" stroke-width="1.2"/>
<polyline points="384.4,273.34 413.2,315.10 442,324.84 470.9,336.21 499.7,382.84" fill="none" stroke="#111" stroke-width="1.8"/>
<polyline points="384.4,273.34 413.2,306.52 442,309.07 470.9,321.83 499.7,359.88" fill="none" stroke="#111" stroke-width="1.8"/>
<polyline points="384.4,273.34 413.2,281.00 442,281.00 470.9,308.37 499.7,336.68" fill="none" stroke="#111" stroke-width="1.8"/>
<ellipse cx="384.40" cy="273.34" rx="3.10" ry="3.30"/>
<ellipse cx="413.20" cy="315.10" rx="3.10" ry="3.30"/>
<ellipse cx="442.00" cy="324.84" rx="3.10" ry="3.30"/>
<ellipse cx="470.90" cy="336.21" rx="3.10" ry="3.30"/>
<ellipse cx="499.70" cy="382.84" rx="3.10" ry="3.30"/>
<path d="M384.40,268.78 L387.80,276.38 L381.00,276.38 Z"/>
<path d="M413.20,301.96 L416.60,309.56 L409.80,309.56 Z"/>
<path d="M442.00,304.51 L445.40,312.11 L438.60,312.11 Z"/>
<path d="M470.90,317.27 L474.30,324.87 L467.50,324.87 Z"/>
<path d="M499.70,355.32 L503.10,362.92 L496.30,362.92 Z"/>
<path d="M384.40,269.54 L388.20,273.34 L384.40,277.14 L380.60,273.34 Z"/>
<path d="M413.20,277.20 L417.00,281.00 L413.20,284.80 L409.40,281.00 Z"/>
<path d="M442.00,277.20 L445.80,281.00 L442.00,284.80 L438.20,281.00 Z"/>
<path d="M470.90,304.57 L474.70,308.37 L470.90,312.17 L467.10,308.37 Z"/>
<path d="M499.70,332.88 L503.50,336.68 L499.70,340.48 L495.90,336.68 Z"/>
<path transform="translate(396.80,304.50)" d="M0.00,-3.00 L0.72,-1.26 L2.60,-1.50 L1.45,0.00 L2.60,1.50 L0.72,1.26 L0.00,3.00 L-0.72,1.26 L-2.60,1.50 L-1.45,0.00 L-2.60,-1.50 L-0.73,-1.26 Z"/>
<path transform="translate(406.00,304.50)" d="M0.00,-3.00 L0.72,-1.26 L2.60,-1.50 L1.45,0.00 L2.60,1.50 L0.72,1.26 L0.00,3.00 L-0.72,1.26 L-2.60,1.50 L-1.45,0.00 L-2.60,-1.50 L-0.73,-1.26 Z"/>
<path transform="translate(396.80,321.20)" d="M0.00,-3.00 L0.72,-1.26 L2.60,-1.50 L1.45,0.00 L2.60,1.50 L0.72,1.26 L0.00,3.00 L-0.72,1.26 L-2.60,1.50 L-1.45,0.00 L-2.60,-1.50 L-0.73,-1.26 Z"/>
<path transform="translate(406.00,321.20)" d="M0.00,-3.00 L0.72,-1.26 L2.60,-1.50 L1.45,0.00 L2.60,1.50 L0.72,1.26 L0.00,3.00 L-0.72,1.26 L-2.60,1.50 L-1.45,0.00 L-2.60,-1.50 L-0.73,-1.26 Z"/>
<path transform="translate(427.70,312.90)" d="M0.00,-3.00 L0.72,-1.26 L2.60,-1.50 L1.45,0.00 L2.60,1.50 L0.72,1.26 L0.00,3.00 L-0.72,1.26 L-2.60,1.50 L-1.45,0.00 L-2.60,-1.50 L-0.73,-1.26 Z"/>
<path transform="translate(436.90,312.90)" d="M0.00,-3.00 L0.72,-1.26 L2.60,-1.50 L1.45,0.00 L2.60,1.50 L0.72,1.26 L0.00,3.00 L-0.72,1.26 L-2.60,1.50 L-1.45,0.00 L-2.60,-1.50 L-0.73,-1.26 Z"/>
<path transform="translate(427.70,330.40)" d="M0.00,-3.00 L0.72,-1.26 L2.60,-1.50 L1.45,0.00 L2.60,1.50 L0.72,1.26 L0.00,3.00 L-0.72,1.26 L-2.60,1.50 L-1.45,0.00 L-2.60,-1.50 L-0.73,-1.26 Z"/>
<path transform="translate(436.90,330.40)" d="M0.00,-3.00 L0.72,-1.26 L2.60,-1.50 L1.45,0.00 L2.60,1.50 L0.72,1.26 L0.00,3.00 L-0.72,1.26 L-2.60,1.50 L-1.45,0.00 L-2.60,-1.50 L-0.73,-1.26 Z"/>
<path transform="translate(484.40,304.20)" d="M0.00,-3.00 L0.72,-1.26 L2.60,-1.50 L1.45,0.00 L2.60,1.50 L0.72,1.26 L0.00,3.00 L-0.72,1.26 L-2.60,1.50 L-1.45,0.00 L-2.60,-1.50 L-0.73,-1.26 Z"/>
<path transform="translate(453.90,322.30)" d="M0.00,-3.00 L0.72,-1.26 L2.60,-1.50 L1.45,0.00 L2.60,1.50 L0.72,1.26 L0.00,3.00 L-0.72,1.26 L-2.60,1.50 L-1.45,0.00 L-2.60,-1.50 L-0.73,-1.26 Z"/>
<path transform="translate(463.10,322.30)" d="M0.00,-3.00 L0.72,-1.26 L2.60,-1.50 L1.45,0.00 L2.60,1.50 L0.72,1.26 L0.00,3.00 L-0.72,1.26 L-2.60,1.50 L-1.45,0.00 L-2.60,-1.50 L-0.73,-1.26 Z"/>
<path transform="translate(453.90,339.30)" d="M0.00,-3.00 L0.72,-1.26 L2.60,-1.50 L1.45,0.00 L2.60,1.50 L0.72,1.26 L0.00,3.00 L-0.72,1.26 L-2.60,1.50 L-1.45,0.00 L-2.60,-1.50 L-0.73,-1.26 Z"/>
<path transform="translate(463.10,339.30)" d="M0.00,-3.00 L0.72,-1.26 L2.60,-1.50 L1.45,0.00 L2.60,1.50 L0.72,1.26 L0.00,3.00 L-0.72,1.26 L-2.60,1.50 L-1.45,0.00 L-2.60,-1.50 L-0.73,-1.26 Z"/>
<path transform="translate(506.20,334.70)" d="M0.00,-3.00 L0.72,-1.26 L2.60,-1.50 L1.45,0.00 L2.60,1.50 L0.72,1.26 L0.00,3.00 L-0.72,1.26 L-2.60,1.50 L-1.45,0.00 L-2.60,-1.50 L-0.73,-1.26 Z"/>
<path transform="translate(515.40,334.70)" d="M0.00,-3.00 L0.72,-1.26 L2.60,-1.50 L1.45,0.00 L2.60,1.50 L0.72,1.26 L0.00,3.00 L-0.72,1.26 L-2.60,1.50 L-1.45,0.00 L-2.60,-1.50 L-0.73,-1.26 Z"/>
<path transform="translate(506.20,361.00)" d="M0.00,-3.00 L0.72,-1.26 L2.60,-1.50 L1.45,0.00 L2.60,1.50 L0.72,1.26 L0.00,3.00 L-0.72,1.26 L-2.60,1.50 L-1.45,0.00 L-2.60,-1.50 L-0.73,-1.26 Z"/>
<path transform="translate(515.40,361.00)" d="M0.00,-3.00 L0.72,-1.26 L2.60,-1.50 L1.45,0.00 L2.60,1.50 L0.72,1.26 L0.00,3.00 L-0.72,1.26 L-2.60,1.50 L-1.45,0.00 L-2.60,-1.50 L-0.73,-1.26 Z"/>
<path transform="translate(506.20,383.20)" d="M0.00,-3.00 L0.72,-1.26 L2.60,-1.50 L1.45,0.00 L2.60,1.50 L0.72,1.26 L0.00,3.00 L-0.72,1.26 L-2.60,1.50 L-1.45,0.00 L-2.60,-1.50 L-0.73,-1.26 Z"/>
<path transform="translate(515.40,383.20)" d="M0.00,-3.00 L0.72,-1.26 L2.60,-1.50 L1.45,0.00 L2.60,1.50 L0.72,1.26 L0.00,3.00 L-0.72,1.26 L-2.60,1.50 L-1.45,0.00 L-2.60,-1.50 L-0.73,-1.26 Z"/>
</g></svg></body></html>
